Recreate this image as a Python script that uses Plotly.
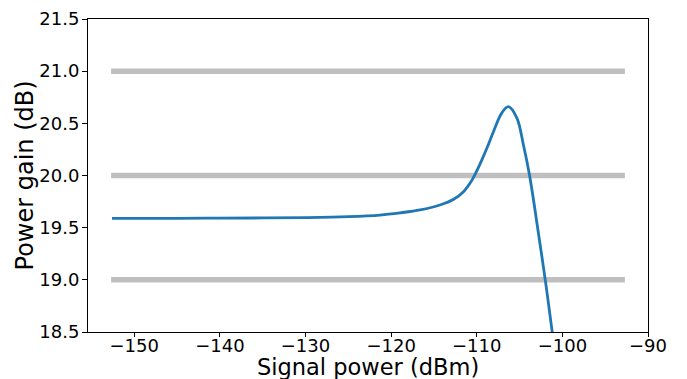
import plotly.graph_objects as go

# Data
signal_power = [-152.6, -145.0, -140.0, -135.0, -130.0, -125.0, -121.3, -118.95, -116.6,
                -114.3, -112.7, -111.55, -110.6, -110.2, -109.4, -108.75, -108.05, -107.07,
                -106.3, -105.31, -104.54, -103.84, -103.37, -102.97, -102.0, -101.22, -100.9]
power_gain = [19.590, 19.590, 19.591, 19.593, 19.597, 19.606, 19.621, 19.642, 19.670,
              19.717, 19.772, 19.845, 19.950, 20.01, 20.15, 20.275, 20.42, 20.60,
              20.66, 20.55, 20.29, 20.005, 19.765, 19.542, 19.0, 18.52, 18.3]

ref_levels = [19.0, 20.0, 21.0]
ref_x = [-152.7, -92.7]

x_ticks = [-150, -140, -130, -120, -110, -100, -90]
y_ticks = [18.5, 19.0, 19.5, 20.0, 20.5, 21.0, 21.5]

x_title = "Signal power (dBm)"
y_title = "Power gain (dB)"

fig = go.Figure()
for lvl in ref_levels:
    fig.add_trace(go.Scatter(x=ref_x, y=[lvl, lvl], mode="lines",
                             line=dict(color="#bfbfbf", width=5.5),
                             showlegend=False, hoverinfo="skip"))
fig.add_trace(go.Scatter(x=signal_power, y=power_gain, mode="lines",
                         line=dict(color="#1f77b4", width=2.8, shape="spline", smoothing=1.0),
                         showlegend=False))

font_family = "DejaVu Sans"
fig.update_layout(
    width=687, height=379,
    margin=dict(l=88, r=39, t=19, b=47),
    paper_bgcolor="white", plot_bgcolor="white",
    font=dict(family=font_family, color="black", size=18),
)
fig.update_xaxes(
    range=[-155.4, -90.0], tickvals=x_ticks, ticks="outside", ticklen=4, tickwidth=1,
    tickcolor="black", showline=True, linecolor="black", linewidth=1, mirror=True,
    showgrid=False, zeroline=False, tickfont=dict(size=18), automargin=False,
    ticklabelstandoff=-7,
)
fig.update_yaxes(
    range=[18.5, 21.5], tickvals=y_ticks, tickformat=".1f", ticks="outside", ticklen=5,
    tickwidth=1, tickcolor="black", showline=True, linecolor="black", linewidth=1,
    mirror=True, showgrid=False, zeroline=False, tickfont=dict(size=18), automargin=False,
    ticklabelstandoff=-1,
)
fig.add_annotation(text=x_title, xref="paper", yref="paper", x=0.5, y=-0.1125,
                   xanchor="center", yanchor="middle", showarrow=False,
                   font=dict(size=22.5, family=font_family, color="black"))
fig.add_annotation(text=y_title, xref="paper", yref="paper", x=-0.1126, y=0.5,
                   xanchor="center", yanchor="middle", showarrow=False, textangle=-90,
                   font=dict(size=24, family=font_family, color="black"))

fig.write_html("out.html")
